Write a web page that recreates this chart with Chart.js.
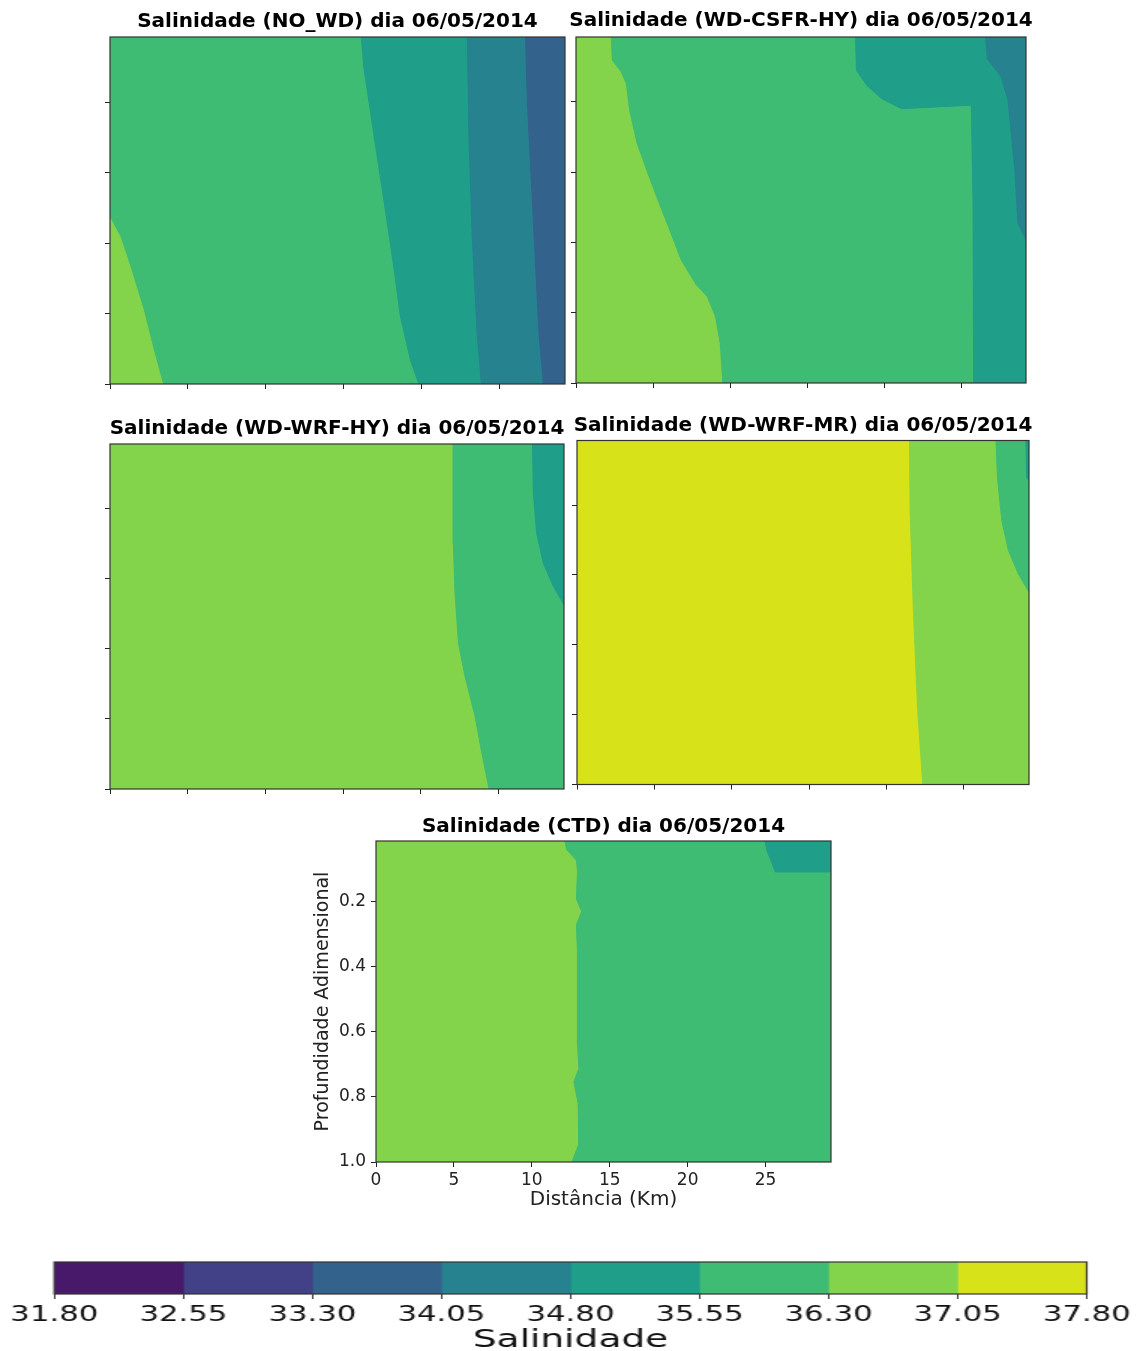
<!DOCTYPE html>
<html>
<head>
<meta charset="utf-8">
<script src="https://cdn.jsdelivr.net/npm/chart.js@4.4.1/dist/chart.umd.min.js"></script>
<style>
  html, body { margin: 0; padding: 0; background: #fff; }
  body { width: 1140px; height: 1351px; position: relative; overflow: hidden; }
  .box { position: absolute; }
</style>
</head>
<body>
<script>
// domain of every section (km along the channel, dimensionless depth)
const XMAX = 29.2;
const DMIN = 0.015;
const DMAX = 1.0;

// salinity classes of the colour bar
const levels = [31.80, 32.55, 33.30, 34.05, 34.80, 35.55, 36.30, 37.05, 37.80];
const levelColors = ['#48186a', '#424086', '#33638d', '#26828e', '#1f9e89', '#3fbc73', '#84d44b', '#d8e219'];

// contour edges: [km, depth]
// NO_WD
const noWdEdge3630 = [[0, 0.529], [0.64, 0.581], [1.29, 0.667], [2.14, 0.790], [2.78, 0.903], [3.38, 1.0]];
const noWdEdge3555 = [[16.13, 0.015], [16.28, 0.098], [16.92, 0.288], [17.57, 0.477], [18.21, 0.667], [18.64, 0.809], [19.28, 0.932], [19.82, 1.0]];
const noWdEdge3480 = [[22.94, 0.015], [23.03, 0.288], [23.24, 0.572], [23.56, 0.856], [23.84, 1.0]];
const noWdEdge3405 = [[26.67, 0.015], [26.78, 0.193], [27.21, 0.572], [27.53, 0.856], [27.81, 1.0]];
// WD-CSFR-HY
const csfrEdge3630 = [[2.22, 0.015], [2.29, 0.081], [2.87, 0.114], [3.2, 0.148], [3.41, 0.223], [3.9, 0.318], [4.6, 0.403], [5.25, 0.479], [6.1, 0.574], [6.76, 0.65], [7.73, 0.72], [8.45, 0.754], [8.98, 0.81], [9.29, 0.886], [9.46, 1.0]];
const csfrEdge3555 = [[18.14, 0.015], [18.2, 0.11], [18.85, 0.152], [19.82, 0.19], [21.12, 0.219], [25.65, 0.209], [25.76, 0.479], [25.8, 1.0]];
const csfrEdge3480 = [[26.58, 0.015], [26.69, 0.077], [27.6, 0.129], [28.03, 0.195], [28.46, 0.384], [28.68, 0.545], [29.2, 0.593]];
// WD-WRF-HY
const hyEdge3630 = [[22.08, 0.015], [22.08, 0.298], [22.19, 0.44], [22.41, 0.583], [22.83, 0.678], [23.48, 0.793], [23.91, 0.897], [24.38, 1.0]];
const hyEdge3555 = [[27.17, 0.015], [27.23, 0.155], [27.44, 0.269], [27.87, 0.355], [28.51, 0.421], [29.2, 0.474]];
// WD-WRF-MR
const mrEdge3705 = [[21.48, 0.015], [21.52, 0.215], [21.73, 0.502], [22.01, 0.788], [22.34, 1.0]];
const mrEdge3630 = [[27.07, 0.015], [27.16, 0.12], [27.44, 0.244], [27.87, 0.33], [28.51, 0.397], [29.2, 0.449]];
const mrEdge3555 = [[29.0, 0.015], [29.05, 0.12], [29.2, 0.13]];
// CTD
const ctdEdge3630 = [[12.12, 0.015], [12.23, 0.041], [12.86, 0.074], [12.93, 0.108], [12.86, 0.193], [13.2, 0.231], [12.86, 0.272], [12.93, 0.359], [12.93, 0.636], [13.02, 0.713], [12.7, 0.754], [12.97, 0.82], [13.02, 0.944], [12.57, 1.0]];
const ctdEdge3555 = [[24.96, 0.015], [25.1, 0.046], [25.63, 0.11], [29.2, 0.11]];

// polygons closed against the section borders
const fullSection = () => [[0, DMIN], [XMAX, DMIN], [XMAX, DMAX], [0, DMAX]];
const rightOf = (edge) => edge.concat([[XMAX, DMAX], [XMAX, DMIN]]);
const leftOf = (edge) => edge.concat([[0, DMAX], [0, DMIN]]);
const topRight = (edge) => edge.concat([[XMAX, DMIN]]);
const bottomLeft = (edge) => edge.concat([[0, DMAX]]);

Chart.defaults.font.family = 'DejaVu Sans';
Chart.defaults.color = '#000';

// plot frame (matplotlib spines)
const framePlugin = {
    id: 'frame',
    afterDatasetsDraw(chart) {
        const { ctx, chartArea: a } = chart;
        ctx.save();
        ctx.strokeStyle = '#333';
        ctx.lineWidth = 1.2;
        ctx.strokeRect(a.left, a.top, a.right - a.left, a.bottom - a.top);
        ctx.restore();
    }
};

function addBox(left, top, width, height) {
    const div = document.createElement('div');
    div.className = 'box';
    div.style.left = left + 'px';
    div.style.top = top + 'px';
    div.style.width = width + 'px';
    div.style.height = height + 'px';
    const canvas = document.createElement('canvas');
    div.appendChild(canvas);
    document.body.appendChild(div);
    return { div, canvas };
}

function createSection(cfg) {
    const [L, T, R, B] = cfg.box;
    const m = cfg.labels ? 68 : 40;      // side space (y axis / mirror)
    const hx = cfg.labels ? 53 : 8;      // x axis height
    const { canvas } = addBox(L - m, T - 12 - cfg.gap, R - L + 2 * m, 12 + cfg.gap + (B - T) + hx);

    // first layer is painted first (highest order = drawn underneath)
    const datasets = cfg.layers.map(([cls, poly], i) => ({
        data: poly.map(([x, y]) => ({ x, y })),
        order: cfg.layers.length - i,
        showLine: true,
        fill: 'shape',
        backgroundColor: levelColors[cls],
        borderColor: levelColors[cls],
        borderWidth: 1,
        pointRadius: 0,
        tension: 0
    }));

    new Chart(canvas, {
        type: 'scatter',
        data: { datasets },
        options: {
            responsive: true,
            maintainAspectRatio: false,
            animation: false,
            events: [],
            layout: { padding: 0 },
            plugins: {
                legend: { display: false },
                tooltip: { enabled: false },
                title: {
                    display: true,
                    text: cfg.title,
                    color: '#000',
                    font: { size: 20, weight: 'bold', lineHeight: 1.2 },
                    padding: { top: 0, bottom: cfg.gap - 12 }
                }
            },
            scales: {
                x: {
                    type: 'linear',
                    min: 0,
                    max: XMAX,
                    ticks: { stepSize: 5, includeBounds: false, display: cfg.labels, maxRotation: 0, color: '#222', font: { size: 17 }, padding: 3 },
                    grid: { drawOnChartArea: false, drawTicks: true, tickLength: 5, color: '#222' },
                    border: { display: false },
                    title: { display: cfg.labels, text: 'Distância (Km)', color: '#222', font: { size: 20 }, padding: { top: 0, bottom: 3 } },
                    afterFit: (s) => { s.height = hx; }
                },
                y: {
                    type: 'linear',
                    reverse: true,
                    min: DMIN,
                    max: DMAX,
                    ticks: { stepSize: 0.2, includeBounds: false, display: cfg.labels, color: '#222', font: { size: 17 }, padding: 5,
                             callback: (v) => v.toFixed(1) },
                    grid: { drawOnChartArea: false, drawTicks: true, tickLength: 5, color: '#222' },
                    border: { display: false },
                    title: { display: cfg.labels, text: 'Profundidade Adimensional', color: '#222', font: { size: 19 }, padding: { top: 4, bottom: 0 } },
                    afterFit: (s) => { s.width = m; }
                },
                yr: {
                    position: 'right',
                    display: true,
                    ticks: { display: false },
                    grid: { display: false },
                    border: { display: false },
                    afterFit: (s) => { s.width = m; }
                }
            }
        },
        plugins: [framePlugin]
    });
}

const sections = [
    { title: 'Salinidade (NO_WD) dia 06/05/2014', box: [110, 37, 565, 384], gap: 15, labels: false,
      layers: [[5, fullSection()], [6, bottomLeft(noWdEdge3630)], [4, rightOf(noWdEdge3555)], [3, rightOf(noWdEdge3480)], [2, rightOf(noWdEdge3405)]] },
    { title: 'Salinidade (WD-CSFR-HY) dia 06/05/2014', box: [576, 37, 1026, 383], gap: 16, labels: false,
      layers: [[5, fullSection()], [6, leftOf(csfrEdge3630)], [4, rightOf(csfrEdge3555)], [3, topRight(csfrEdge3480)]] },
    { title: 'Salinidade (WD-WRF-HY) dia 06/05/2014', box: [110, 444, 564, 789], gap: 15, labels: false,
      layers: [[6, fullSection()], [5, rightOf(hyEdge3630)], [4, topRight(hyEdge3555)]] },
    { title: 'Salinidade (WD-WRF-MR) dia 06/05/2014', box: [577, 440, 1029, 784], gap: 14.5, labels: false,
      layers: [[7, fullSection()], [6, rightOf(mrEdge3705)], [5, topRight(mrEdge3630)], [4, topRight(mrEdge3555)]] },
    { title: 'Salinidade (CTD) dia 06/05/2014', box: [376, 841, 831, 1162], gap: 14, labels: true,
      layers: [[6, fullSection()], [5, rightOf(ctdEdge3630)], [4, topRight(ctdEdge3555)]] }
];

sections.forEach(createSection);

// Colour bar: floating bars, one per class, drawn on an unstretched canvas
// and widened by 1.5 like the original figure
function createColorBar() {
    const { div, canvas } = addBox(0, 1250, 760, 101);
    div.style.transform = 'scaleX(1.5)';
    div.style.transformOrigin = '0 0';

    new Chart(canvas, {
        type: 'bar',
        data: {
            labels: ['Salinidade'],
            datasets: levelColors.map((c, i) => ({
                data: [[levels[i], levels[i + 1]]],
                backgroundColor: c,
                borderWidth: 0,
                grouped: false,
                barPercentage: 1,
                categoryPercentage: 1
            }))
        },
        options: {
            indexAxis: 'y',
            responsive: true,
            maintainAspectRatio: false,
            animation: false,
            events: [],
            layout: { padding: { left: 36.2, right: 35.5, top: 12, bottom: 0 } },
            plugins: { legend: { display: false }, tooltip: { enabled: false } },
            scales: {
                x: {
                    type: 'linear',
                    min: levels[0],
                    max: levels[levels.length - 1],
                    afterBuildTicks: (s) => { s.ticks = levels.map((v) => ({ value: v })); },
                    ticks: { autoSkip: false, maxRotation: 0, color: '#111', font: { size: 20.5 }, padding: 4,
                             callback: (v) => Number(v).toFixed(2) },
                    grid: { drawOnChartArea: false, drawTicks: true, tickLength: 5, color: '#333' },
                    border: { display: false },
                    title: { display: true, text: 'Salinidade', color: '#111', font: { size: 25, lineHeight: 1 }, padding: { top: 0, bottom: -2 } },
                    afterFit: (s) => { s.height = 57; }
                },
                y: { display: false }
            }
        },
        plugins: [framePlugin]
    });
}

createColorBar();
</script>
</body>
</html>
